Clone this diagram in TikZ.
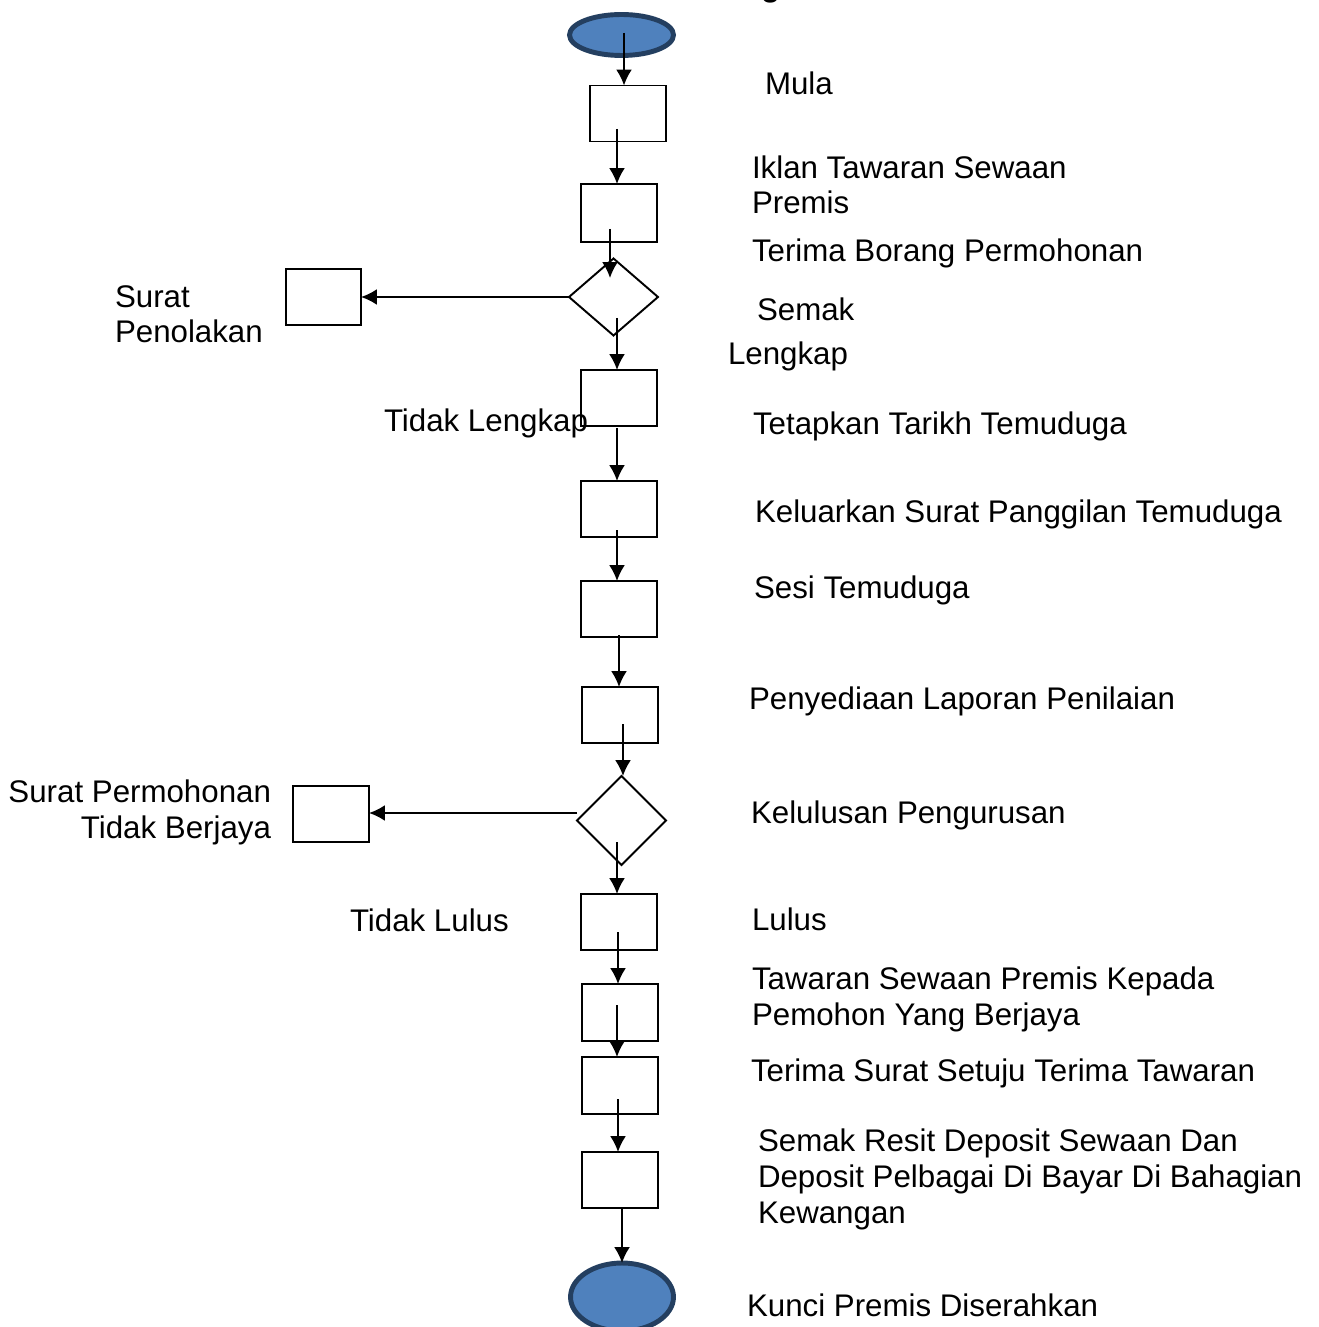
\documentclass[tikz,border=0pt]{standalone}
\usepackage{fontspec}
\setmainfont{Liberation Sans}
\usetikzlibrary{shapes.geometric,arrows.meta,calc}

\definecolor{termfill}{HTML}{4F81BD}
\definecolor{termline}{HTML}{243F60}

\begin{document}
\begin{tikzpicture}[x=0.02cm,y=-0.02cm,
  every node/.style={inner sep=0pt, outer sep=0pt},
  stepbox/.style={draw, line width=1.1pt, minimum width=1.52cm, minimum height=1.12cm},
  decision/.style={draw, diamond, line width=1.1pt},
  terminal/.style={draw=termline, fill=termfill, ellipse, line width=2.8pt},
  arr/.style={line width=1.1pt, -{Latex[length=9pt,width=9pt]}},
  lbl/.style={font=\fontsize{17.8}{20.4}\selectfont, anchor=base west, align=left},
]
\useasboundingbox (0,0) rectangle (1318,1327);

% flow shapes
\node[terminal, minimum width=2.08cm, minimum height=0.82cm] (start) at (621.5,35) {};
\node[stepbox] (b1) at (628,113.5) {};
\node[stepbox, minimum height=1.16cm] (b2) at (619,213) {};
\node[decision, minimum width=1.78cm, minimum height=1.54cm] (d1) at (613.5,297) {};
\node[stepbox, minimum width=1.50cm] (rej1) at (323.5,297) {};
\node[stepbox] (b3) at (619,398) {};
\node[stepbox] (b4) at (619,509) {};
\node[stepbox] (b5) at (619,609) {};
\node[stepbox] (b6) at (620,715) {};
\node[decision, minimum width=1.78cm, minimum height=1.78cm] (d2) at (621.5,820.5) {};
\node[stepbox] (rej2) at (331,814) {};
\node[stepbox] (b7) at (619,922) {};
\node[stepbox, minimum height=1.14cm] (b8) at (620,1012.5) {};
\node[stepbox, minimum height=1.14cm] (b9) at (620,1085.5) {};
\node[stepbox] (b10) at (620,1180) {};
\node[terminal, minimum width=2.06cm, minimum height=1.36cm] (stop) at (622,1297) {};

% connector start points
\coordinate (s0) at (624,33);
\coordinate (s1) at (617,129);
\coordinate (s2) at (610,229);
\coordinate (t2) at (610,278);
\coordinate (s3) at (617,318);
\coordinate (s4) at (617,428);
\coordinate (s5) at (617,530);
\coordinate (s6) at (619,635);
\coordinate (s7) at (623,724);
\coordinate (s8) at (617,842);
\coordinate (s9) at (618,932);
\coordinate (s10) at (617,1005);
\coordinate (s11) at (618,1099);
\coordinate (s12) at (622,1208);
\coordinate (l2) at (577,813);

% connectors
\draw[arr] (s0) -- (s0 |- b1.north);
\draw[arr] (s1) -- (s1 |- b2.north);
\draw[arr] (s2) -- (t2);
\draw[arr] (d1.west) -- (rej1.east);
\draw[arr] (s3) -- (s3 |- b3.north);
\draw[arr] (s4) -- (s4 |- b4.north);
\draw[arr] (s5) -- (s5 |- b5.north);
\draw[arr] (s6) -- (s6 |- b6.north);
\draw[arr] (s7) -- (s7 |- d2.north);
\draw[arr] (l2) -- (l2 -| rej2.east);
\draw[arr] (s8) -- (s8 |- b7.north);
\draw[arr] (s9) -- (s9 |- b8.north);
\draw[arr] (s10) -- (s10 |- b9.north);
\draw[arr] (s11) -- (s11 |- b10.north);
\draw[arr] (s12) -- (s12 |- stop.north);

% labels (multi-line labels are placed by the baseline of their last line)
\node[lbl, font=\fontsize{17.8}{20.4}\selectfont\bfseries] (ttl) at (761,-3) {g};
\node[lbl] (t0) at (765,95) {Mula};
\node[lbl] (t1) at (752,214) {Iklan Tawaran Sewaan\\Premis};
\node[lbl] (t2l) at (752,262) {Terima Borang Permohonan};
\node[lbl] (t3) at (757,321) {Semak};
\node[lbl] (t4) at (728,365) {Lengkap};
\node[lbl] (t5) at (115,343) {Surat\\Penolakan};
\node[lbl] (t6) at (384,431) {Tidak Lengkap};
\node[lbl] (t7) at (753,434) {Tetapkan Tarikh Temuduga};
\node[lbl] (t8) at (755,522) {Keluarkan Surat Panggilan Temuduga};
\node[lbl] (t9) at (754,598) {Sesi Temuduga};
\node[lbl] (t10) at (749,709) {Penyediaan Laporan Penilaian};
\node[lbl, anchor=base east, align=right] (t11) at (271,838) {Surat Permohonan\\Tidak Berjaya};
\node[lbl] (t12) at (751,823) {Kelulusan Pengurusan};
\node[lbl] (t13) at (350,931) {Tidak Lulus};
\node[lbl] (t14) at (752,930) {Lulus};
\node[lbl] (t15) at (752,1025) {Tawaran Sewaan Premis Kepada\\Pemohon Yang Berjaya};
\node[lbl] (t16) at (751,1081) {Terima Surat Setuju Terima Tawaran};
\node[lbl] (t17) at (758,1223) {Semak Resit Deposit Sewaan Dan\\Deposit Pelbagai Di Bayar Di Bahagian\\Kewangan};
\node[lbl] (t18) at (747,1316) {Kunci Premis Diserahkan};
\end{tikzpicture}
\end{document}
